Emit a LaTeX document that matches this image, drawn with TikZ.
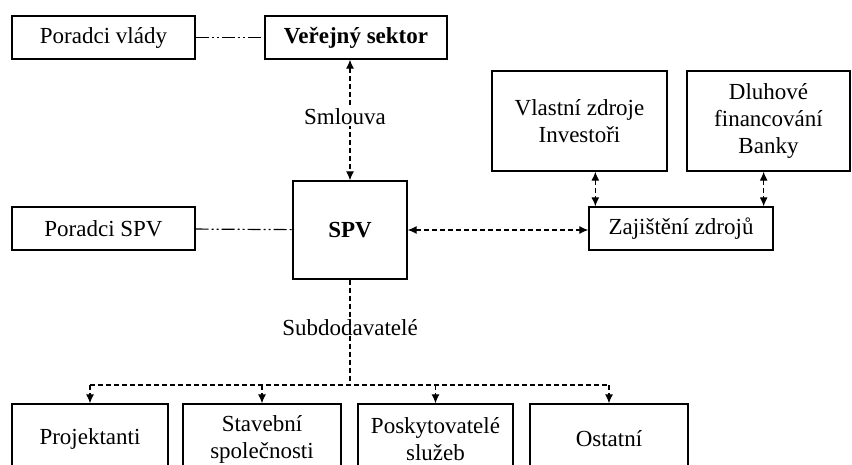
\documentclass[tikz,border=0pt]{standalone}
\usepackage{fontspec}
\setmainfont{Liberation Serif}
\usetikzlibrary{arrows.meta}
\begin{document}
\begin{tikzpicture}[x=1pt,y=-1pt,
    box/.style={shape=rectangle,draw=black,line width=1.3pt,align=center,inner sep=0pt,
        font=\fontsize{23}{27}\selectfont},
    lbl/.style={inner sep=1pt,font=\fontsize{23}{27}\selectfont},
    dasharrow/.style={line width=1.2pt,dash pattern=on 5pt off 3pt},
    dashdot/.style={line width=1.2pt,dash pattern=on 13pt off 3pt on 2pt off 3pt on 2pt off 3pt},
    tip/.tip={Latex[length=9pt,width=8pt]}]
    \path[use as bounding box,clip] (0,0) rectangle (852,465);

    \node[box,minimum width=183pt,minimum height=43pt] (vlady) at (103.5,37.5) {Poradci vlády};
    \node[box,minimum width=182pt,minimum height=43pt] (sektor) at (356,37.5) {\textbf{Veřejný sektor}};
    \node[box,minimum width=114pt,minimum height=98pt] (spv) at (350,230) {\textbf{SPV}};
    \node[box,minimum width=183pt,minimum height=43pt] (poradcispv) at (103.5,228.5) {Poradci SPV};
    \node[box,minimum width=175pt,minimum height=100pt] (vlastni) at (579.5,121) {Vlastní zdroje\\Investoři};
    \node[box,minimum width=163pt,minimum height=100pt] (dluhove) at (768.5,121) {Dluhové\\financování\\Banky};
    \node[box,minimum width=184pt,minimum height=43pt] (zajisteni) at (681,228.5) {Zajištění zdrojů};

    % subdodavatele
    \node[box,minimum width=156pt,minimum height=70pt] (projektanti) at (90,439) {Projektanti};
    \node[box,minimum width=158pt,minimum height=70pt] (stavebni) at (262,439) {Stavební\\společnosti};
    \node[box,minimum width=155pt,minimum height=70pt] (sluzby) at (435.5,439) {Poskytovatelé\\služeb};
    \node[box,minimum width=158pt,minimum height=70pt] (ostatni) at (609,439) {Ostatní};
    \coordinate (bus) at (350,385);

    % poradci
    \draw[dashdot] (vlady) -- (sektor);
    \draw[dashdot] (poradcispv) -- (spv);

    % smlouva a zdroje
    \draw[dasharrow,tip-tip] (spv.north |- sektor.south) -- (spv.north);
    \node[lbl,fill=white] (smlouva) at (345,117) {Smlouva};
    \draw[dasharrow,tip-tip] (spv.east) -- (spv.east -| zajisteni.west);
    \draw[dasharrow,tip-tip] ([xshift=7pt]zajisteni.north west |- vlastni.south) -- ([xshift=7pt]zajisteni.north west);
    \draw[dasharrow,tip-tip] ([xshift=-10pt]zajisteni.north east |- dluhove.south) -- ([xshift=-10pt]zajisteni.north east);

    % vetve dolu
    \draw[dasharrow] (spv.south) -- (bus);
    \node[lbl] (subdod) at (350,328) {Subdodavatelé};
    \draw[dasharrow] (projektanti.north |- bus) -- (ostatni.north |- bus);
    \draw[dasharrow,-tip] (projektanti.north |- bus) -- (projektanti.north);
    \draw[dasharrow,-tip] (stavebni.north |- bus) -- (stavebni.north);
    \draw[dasharrow,-tip] (sluzby.north |- bus) -- (sluzby.north);
    \draw[dasharrow,-tip] (ostatni.north |- bus) -- (ostatni.north);
\end{tikzpicture}
\end{document}
